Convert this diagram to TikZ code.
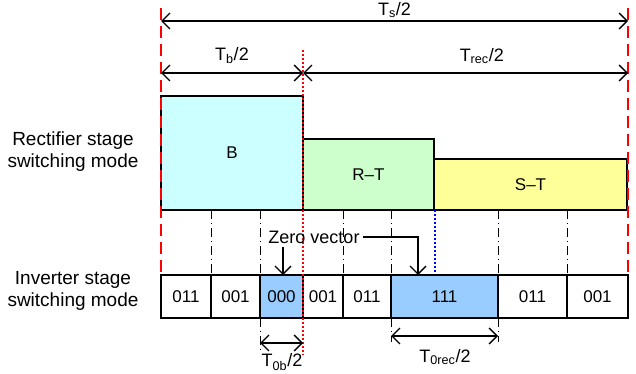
\documentclass[tikz,border=0pt]{standalone}
\usepackage{fontspec}
\setmainfont{Liberation Sans}
\usetikzlibrary{arrows.meta, positioning}
\definecolor{rbCyan}{RGB}{204,255,255}
\definecolor{rbGreen}{RGB}{204,255,204}
\definecolor{rbYellow}{RGB}{255,255,153}
\definecolor{rbBlue}{RGB}{153,204,255}

\tikzset{
  modebox/.style={draw, line width=2.4pt, inner sep=0pt, outer sep=0pt,
    font=\fontsize{17}{19}\selectfont},
  barb/.tip={Straight Barb[length=8pt,width=16pt]},
  dimline/.style={line width=1.3pt, barb-barb},
  pointer/.style={line width=1.3pt, -barb},
  sideLabel/.style={align=center, font=\fontsize{19}{22}\selectfont},
  dimLabel/.style={font=\fontsize{18}{20}\selectfont},
  edgeRed/.style={red, line width=1.3pt, dash pattern=on 12pt off 6pt},
  splitRed/.style={red, line width=1.1pt, dash pattern=on 2pt off 2pt},
  splitBlue/.style={blue, line width=1.1pt, dash pattern=on 2pt off 2pt},
  slotLine/.style={line width=0.8pt, dash pattern=on 9pt off 4pt on 1pt off 4pt}
}

\begin{document}
\begin{tikzpicture}[x=1pt, y=-1pt]
  \useasboundingbox (0,0) rectangle (636,374);

  % side labels
  \node[sideLabel] (recLbl) at (73,152) {Rectifier stage\\switching mode};
  \node[sideLabel] (invLbl) at (73,291) {Inverter stage\\switching mode};

  % rectifier stage
  \begin{scope}[every node/.append style={font=\fontsize{18}{20}\selectfont}]
    \node[modebox, fill=rbCyan,   minimum width=142pt, minimum height=114pt] (B)  at (232,153)   {B};
    \node[modebox, fill=rbGreen,  minimum width=131pt, minimum height=71pt]  (RT) at (368.5,174.5) {R--T};
    \node[modebox, fill=rbYellow, minimum width=193pt, minimum height=51pt]  (ST) at (530.5,184.5) {S--T};
  \end{scope}

  % inverter stage
  \foreach \n/\xa/\xb/\lbl/\col in {
    1/161/211/011/white,
    2/211/260/001/white,
    3/260/303/000/rbBlue,
    4/303/343/001/white,
    5/343/391/011/white,
    6/391/498/111/rbBlue,
    7/498/567/011/white,
    8/567/628/001/white} {
    \node[modebox, fill=\col, minimum width={(\xb-\xa)*1pt}, minimum height=43pt]
      (v\n) at ({(\xa+\xb)/2},296.5) {\lbl};
  }

  % slot boundaries
  \foreach \x in {211,260,343,391,498,567} {
    \draw[slotLine] (\x,210) -- (\x,275);
  }
  \foreach \x/\yb in {260/352,391/342,498/342} {
    \draw[slotLine] (\x,318) -- (\x,\yb);
  }

  % period boundaries
  \draw[edgeRed] (161,8) -- (161,276);
  \draw[edgeRed] (628,8) -- (628,276);
  \draw[splitRed] (303,50) -- (303,355);
  \draw[splitBlue] (435,210) -- (435,274);

  % dimensions
  \coordinate (tsL) at (161,21);
  \coordinate (tsR) at (628,21);
  \draw[dimline] (tsL) -- (tsR) node[dimLabel, midway, above=-1pt] (tsLbl) {T\textsubscript{s}/2};
  \coordinate (tbL) at (161,73);
  \coordinate (tbR) at (303,73);
  \coordinate (trR) at (628,73);
  \draw[dimline] (tbL) -- (tbR) node[dimLabel, midway, above=5pt] (tbLbl) {T\textsubscript{b}/2};
  \draw[dimline] (tbR) -- (trR) node[dimLabel, pos=0.55, above=5pt] (trLbl) {T\textsubscript{rec}/2};
  \coordinate (t0bL) at (260,343);
  \coordinate (t0bR) at (303,343);
  \draw[dimline] (t0bL) -- (t0bR);
  \node[dimLabel] (t0bLbl) at (282,362) {T\textsubscript{0b}/2};
  \coordinate (t0rL) at (391,336);
  \coordinate (t0rR) at (498,336);
  \draw[dimline] (t0rL) -- (t0rR);
  \node[dimLabel] (t0rLbl) at (445,357) {T\textsubscript{0rec}/2};

  % zero vectors
  \node[dimLabel] (zero) at (314,237) {Zero vector};
  \coordinate (zeroL) at (283,0);
  \coordinate (zeroR) at (418,237);
  \draw[pointer] (zeroL |- zero.south) -- (zeroL |- v3.north);
  \draw[pointer] (zero.east) -- (zeroR) -- (zeroR |- v6.north);
\end{tikzpicture}
\end{document}
